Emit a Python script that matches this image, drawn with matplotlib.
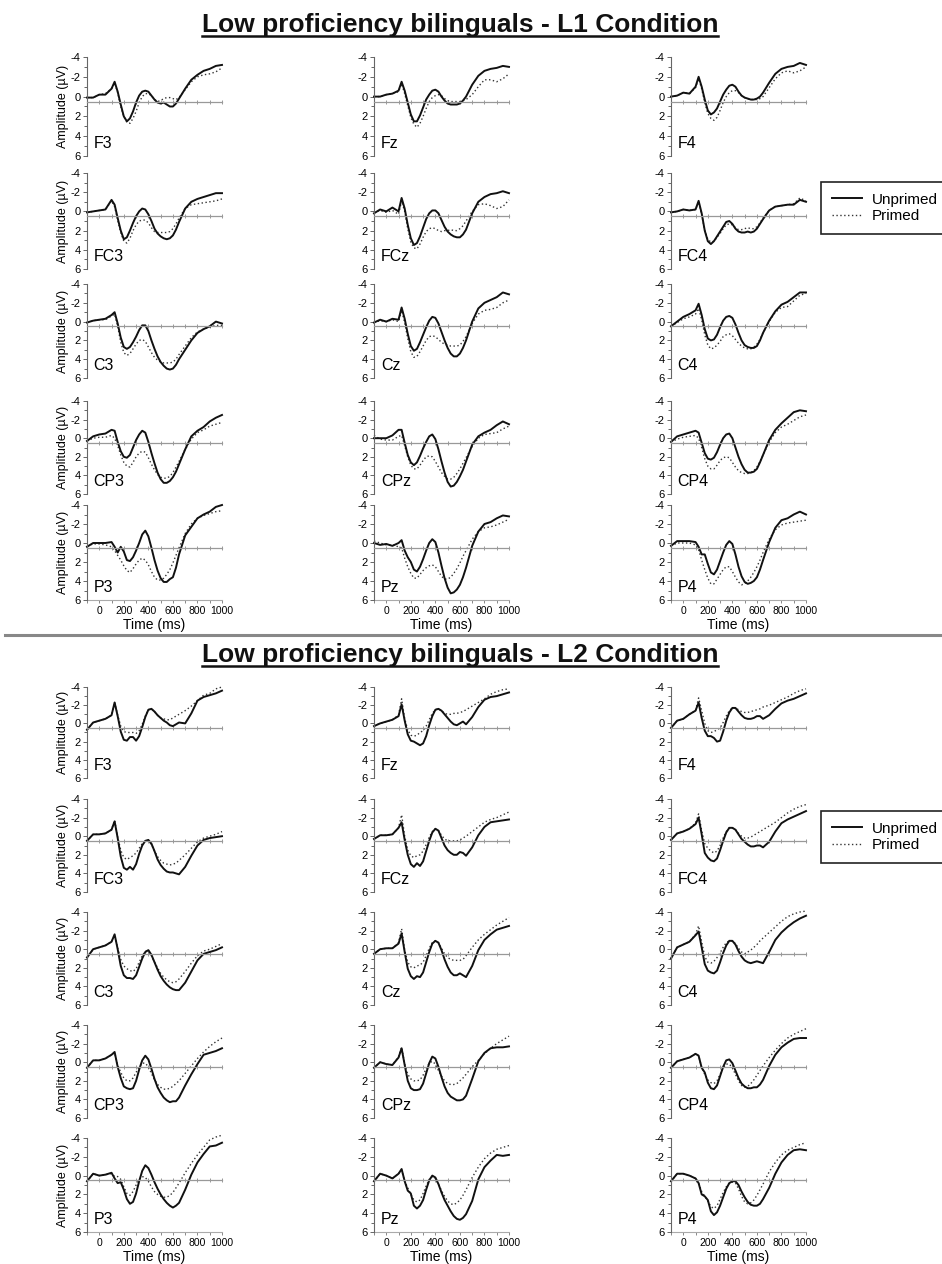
import numpy as np
import matplotlib
matplotlib.use('Agg')
import matplotlib.pyplot as plt
from matplotlib import font_manager
from matplotlib.lines import Line2D

# time axis (ms) shared by every waveform
TIMES = [-100, -50, 0, 50, 100, 125, 150, 175, 200, 225, 250, 275, 300, 325, 350, 375,
         400, 425, 450, 475, 500, 525, 550, 575, 600, 625, 650, 700, 750, 800, 850, 900, 950, 1000]

ELECTRODES = [['F3', 'Fz', 'F4'],
              ['FC3', 'FCz', 'FC4'],
              ['C3', 'Cz', 'C4'],
              ['CP3', 'CPz', 'CP4'],
              ['P3', 'Pz', 'P4']]

# ---------- L1 condition (U = unprimed, P = primed), amplitude in microvolts ----------
L1_F3_U = [0.1, 0.1, -0.2, -0.2, -0.8, -1.5, -0.5, 0.8, 2.0, 2.5, 2.2, 1.5, 0.6, -0.1, -0.5, -0.6, -0.5, -0.1, 0.3, 0.6, 0.7, 0.6, 0.8, 1.0, 1.0, 0.7, 0.2, -0.8, -1.7, -2.2, -2.6, -2.8, -3.1, -3.2]
L1_F3_P = [0.1, 0.1, -0.2, -0.3, -0.8, -1.4, -0.4, 1.0, 2.0, 2.6, 2.7, 2.2, 1.5, 0.6, 0.0, -0.3, -0.3, -0.1, 0.3, 0.5, 0.4, 0.2, 0.1, 0.1, 0.2, 0.3, 0.1, -0.7, -1.5, -2.0, -2.2, -2.3, -2.5, -2.9]
L1_FZ_U = [0.0, 0.0, -0.2, -0.3, -0.6, -1.5, -0.6, 0.6, 1.8, 2.5, 2.5, 1.9, 1.1, 0.3, -0.2, -0.6, -0.7, -0.5, 0.0, 0.4, 0.7, 0.8, 0.8, 0.8, 0.7, 0.4, 0.0, -1.2, -2.1, -2.6, -2.8, -2.9, -3.1, -3.0]
L1_FZ_P = [0.0, 0.0, -0.2, -0.3, -0.5, -1.3, -0.3, 0.9, 2.1, 2.8, 3.1, 2.7, 2.0, 1.2, 0.5, 0.1, -0.1, -0.2, -0.1, 0.2, 0.4, 0.5, 0.5, 0.5, 0.5, 0.4, 0.3, -0.2, -1.0, -1.7, -1.7, -1.5, -1.8, -2.3]
L1_F4_U = [0.0, -0.1, -0.4, -0.3, -1.0, -2.0, -1.0, 0.3, 1.4, 1.8, 1.6, 1.2, 0.5, -0.2, -0.7, -1.1, -1.2, -1.0, -0.5, -0.1, 0.1, 0.2, 0.3, 0.3, 0.2, 0.0, -0.4, -1.4, -2.3, -2.8, -3.0, -3.1, -3.4, -3.2]
L1_F4_P = [0.0, -0.1, -0.4, -0.3, -0.9, -1.8, -0.8, 0.6, 1.7, 2.2, 2.4, 2.1, 1.4, 0.6, 0.0, -0.4, -0.6, -0.6, -0.4, -0.1, 0.1, 0.2, 0.3, 0.3, 0.3, 0.2, 0.0, -0.9, -1.8, -2.4, -2.6, -2.4, -2.6, -3.0]
L1_FC3_U = [0.1, 0.0, -0.1, -0.2, -1.2, -0.7, 0.7, 2.0, 2.9, 2.7, 2.0, 1.2, 0.5, 0.0, -0.3, -0.2, 0.3, 1.0, 1.8, 2.3, 2.6, 2.8, 2.9, 2.8, 2.5, 1.9, 1.1, -0.3, -1.0, -1.3, -1.5, -1.7, -1.9, -1.9]
L1_FC3_P = [0.1, 0.0, -0.1, -0.2, -1.1, -0.5, 0.9, 2.2, 3.1, 3.3, 2.8, 2.0, 1.4, 1.0, 0.9, 0.9, 1.2, 1.7, 2.1, 2.2, 2.2, 2.2, 2.2, 2.1, 1.8, 1.3, 0.7, -0.3, -0.7, -0.8, -0.9, -1.0, -1.1, -1.3]
L1_FCZ_U = [0.2, -0.2, 0.0, -0.4, 0.0, -1.4, -0.3, 1.4, 2.8, 3.5, 3.3, 2.6, 1.7, 0.8, 0.2, -0.1, -0.1, 0.2, 0.9, 1.6, 2.1, 2.4, 2.6, 2.7, 2.7, 2.4, 1.9, 0.2, -1.0, -1.5, -1.8, -1.9, -2.1, -1.9]
L1_FCZ_P = [0.1, -0.1, 0.1, -0.1, 0.3, -1.1, 0.0, 1.8, 3.2, 3.8, 3.9, 3.4, 2.7, 2.1, 1.8, 1.7, 1.8, 2.0, 2.1, 2.0, 2.0, 1.9, 2.0, 2.0, 1.8, 1.5, 1.0, 0.0, -0.7, -0.8, -0.6, -0.3, -0.5, -1.2]
L1_FC4_U = [0.1, 0.0, -0.2, -0.1, -0.2, -1.1, 0.2, 2.0, 3.1, 3.4, 3.1, 2.6, 2.1, 1.6, 1.1, 1.0, 1.3, 1.8, 2.1, 2.2, 2.2, 2.1, 2.2, 2.1, 1.8, 1.3, 0.8, -0.1, -0.5, -0.6, -0.7, -0.7, -1.2, -1.0]
L1_FC4_P = [0.1, 0.0, -0.2, -0.1, -0.2, -1.0, 0.3, 2.0, 2.9, 3.2, 3.1, 2.7, 2.3, 1.8, 1.4, 1.3, 1.4, 1.7, 1.9, 1.9, 1.8, 1.7, 1.8, 1.8, 1.6, 1.2, 0.7, -0.1, -0.5, -0.6, -0.7, -0.8, -1.4, -1.1]
L1_C3_U = [0.1, -0.1, -0.2, -0.3, -0.7, -1.0, 0.2, 1.7, 2.7, 2.9, 2.7, 2.2, 1.6, 0.9, 0.4, 0.4, 1.0, 2.0, 2.9, 3.7, 4.3, 4.7, 5.0, 5.1, 5.0, 4.6, 4.0, 3.0, 2.0, 1.2, 0.8, 0.5, 0.0, 0.2]
L1_C3_P = [0.1, -0.1, -0.2, -0.2, -0.6, -0.8, 0.5, 2.2, 3.3, 3.6, 3.4, 2.9, 2.4, 2.0, 1.9, 2.1, 2.7, 3.3, 3.8, 4.1, 4.3, 4.4, 4.4, 4.4, 4.3, 4.0, 3.5, 2.6, 1.7, 1.1, 0.8, 0.6, 0.4, 0.4]
L1_CZ_U = [0.1, -0.2, 0.0, -0.3, -0.2, -1.5, -0.3, 1.3, 2.6, 3.1, 2.9, 2.2, 1.4, 0.6, -0.1, -0.5, -0.4, 0.2, 1.1, 2.0, 2.8, 3.4, 3.7, 3.7, 3.4, 2.8, 2.0, 0.0, -1.4, -2.0, -2.3, -2.6, -3.1, -2.9]
L1_CZ_P = [0.1, -0.1, 0.0, -0.2, 0.0, -1.2, 0.1, 1.8, 3.2, 3.8, 3.7, 3.2, 2.6, 2.0, 1.6, 1.5, 1.6, 1.9, 2.2, 2.4, 2.5, 2.6, 2.6, 2.6, 2.5, 2.1, 1.6, 0.2, -0.8, -1.2, -1.3, -1.5, -2.0, -2.3]
L1_C4_U = [0.5, 0.0, -0.5, -0.8, -1.2, -1.9, -0.7, 0.8, 1.8, 2.0, 1.9, 1.4, 0.6, -0.1, -0.5, -0.6, -0.4, 0.3, 1.2, 2.0, 2.5, 2.7, 2.8, 2.8, 2.6, 2.0, 1.2, -0.1, -1.1, -1.8, -2.1, -2.6, -3.1, -3.1]
L1_C4_P = [0.5, 0.1, -0.3, -0.5, -0.8, -1.4, -0.2, 1.4, 2.5, 2.9, 2.8, 2.5, 2.1, 1.6, 1.4, 1.3, 1.5, 1.9, 2.3, 2.6, 2.8, 2.9, 2.9, 2.7, 2.4, 1.9, 1.2, 0.0, -1.0, -1.5, -1.6, -2.2, -2.8, -3.0]
L1_CP3_U = [0.3, -0.2, -0.4, -0.5, -0.9, -0.8, 0.4, 1.4, 2.0, 2.1, 1.8, 1.0, 0.2, -0.4, -0.8, -0.6, 0.4, 1.6, 2.7, 3.7, 4.4, 4.8, 4.8, 4.6, 4.2, 3.6, 2.8, 1.2, -0.2, -0.8, -1.2, -1.8, -2.2, -2.5]
L1_CP3_P = [0.3, 0.0, -0.1, -0.1, -0.3, 0.0, 0.8, 1.8, 2.6, 3.0, 3.1, 2.6, 2.0, 1.6, 1.4, 1.5, 2.1, 2.8, 3.4, 3.9, 4.2, 4.3, 4.3, 4.1, 3.7, 3.1, 2.5, 1.2, 0.1, -0.6, -0.9, -1.3, -1.5, -1.7]
L1_CPZ_U = [0.0, 0.0, 0.0, -0.3, -0.9, -0.9, 0.5, 1.8, 2.6, 2.9, 2.6, 1.9, 1.1, 0.4, -0.2, -0.4, 0.1, 1.2, 2.5, 3.7, 4.7, 5.2, 5.1, 4.7, 4.1, 3.4, 2.5, 0.7, -0.2, -0.6, -0.9, -1.4, -1.8, -1.5]
L1_CPZ_P = [-0.3, 0.1, 0.2, 0.2, -0.2, -0.3, 0.8, 2.0, 2.9, 3.3, 3.3, 2.9, 2.4, 2.0, 1.9, 2.0, 2.5, 3.1, 3.7, 4.1, 4.4, 4.4, 4.2, 3.8, 3.3, 2.7, 2.1, 0.9, 0.0, -0.4, -0.5, -0.6, -1.0, -1.3]
L1_CP4_U = [0.4, -0.2, -0.4, -0.6, -0.8, -0.6, 0.5, 1.6, 2.2, 2.3, 2.1, 1.5, 0.7, 0.0, -0.4, -0.5, 0.0, 1.0, 2.0, 2.8, 3.4, 3.7, 3.7, 3.6, 3.3, 2.6, 1.8, 0.2, -0.9, -1.6, -2.2, -2.8, -3.0, -2.9]
L1_CP4_P = [0.4, 0.1, -0.1, -0.2, -0.3, 0.0, 1.0, 2.2, 3.0, 3.3, 3.3, 2.9, 2.4, 2.1, 2.0, 2.1, 2.6, 3.1, 3.5, 3.7, 3.8, 3.8, 3.7, 3.5, 3.1, 2.5, 1.8, 0.4, -0.6, -1.2, -1.5, -1.9, -2.3, -2.5]
L1_P3_U = [0.4, 0.0, 0.0, 0.0, -0.1, 0.4, 1.0, 0.4, 0.9, 1.8, 1.9, 1.5, 0.8, 0.0, -0.9, -1.3, -0.7, 0.5, 1.8, 2.9, 3.7, 4.1, 4.1, 3.8, 3.6, 2.6, 1.2, -0.8, -1.7, -2.6, -3.0, -3.3, -3.8, -4.0]
L1_P3_P = [0.3, 0.1, 0.1, 0.2, 0.4, 0.8, 1.3, 1.8, 2.4, 2.9, 3.1, 2.7, 2.2, 1.8, 1.6, 1.8, 2.3, 3.0, 3.6, 3.9, 3.9, 3.7, 3.3, 2.8, 2.1, 1.3, 0.5, -1.0, -2.0, -2.6, -2.9, -3.1, -3.3, -3.4]
L1_PZ_U = [0.0, 0.2, 0.1, 0.3, 0.0, -0.3, 0.8, 1.5, 2.0, 2.8, 3.0, 2.5, 1.7, 0.8, 0.0, -0.4, -0.1, 1.0, 2.4, 3.7, 4.7, 5.3, 5.2, 4.9, 4.4, 3.6, 2.6, 0.3, -1.2, -2.0, -2.2, -2.6, -2.9, -2.8]
L1_PZ_P = [-0.2, 0.0, 0.2, 0.2, 0.4, 0.5, 1.6, 2.5, 3.2, 3.7, 3.7, 3.3, 2.9, 2.6, 2.4, 2.3, 2.5, 3.0, 3.5, 3.8, 3.8, 3.6, 3.2, 2.7, 2.1, 1.4, 0.8, -0.4, -1.2, -1.6, -1.7, -1.9, -2.2, -2.5]
L1_P4_U = [0.3, -0.2, -0.2, -0.2, -0.1, 0.4, 1.2, 1.2, 2.2, 3.1, 3.3, 2.8, 1.9, 1.0, 0.2, -0.2, 0.1, 1.2, 2.5, 3.5, 4.1, 4.3, 4.2, 4.0, 3.6, 2.8, 1.8, -0.1, -1.6, -2.4, -2.6, -3.0, -3.3, -3.0]
L1_P4_P = [0.3, 0.0, 0.0, 0.0, 0.2, 0.7, 1.8, 2.8, 3.7, 4.3, 4.3, 3.8, 3.3, 2.8, 2.5, 2.5, 3.0, 3.6, 4.1, 4.4, 4.3, 4.0, 3.6, 3.1, 2.5, 1.8, 1.0, -0.4, -1.4, -1.9, -2.1, -2.2, -2.3, -2.4]

# ---------- L2 condition ----------
L2_F3_U = [0.7, -0.1, -0.3, -0.5, -0.9, -2.3, -0.8, 0.9, 1.8, 1.9, 1.5, 1.5, 1.9, 1.4, 0.4, -0.7, -1.5, -1.6, -1.3, -0.9, -0.6, -0.3, -0.1, 0.2, 0.3, 0.1, -0.1, 0.0, -1.1, -2.5, -2.9, -3.1, -3.3, -3.6]
L2_F3_P = [0.7, -0.1, -0.3, -0.5, -0.9, -2.3, -0.9, 0.3, 0.9, 1.0, 1.0, 1.0, 1.1, 0.8, 0.1, -0.8, -1.5, -1.6, -1.3, -0.9, -0.6, -0.5, -0.4, -0.4, -0.6, -0.8, -1.0, -1.4, -1.9, -2.5, -3.1, -3.3, -3.8, -4.0]
L2_FZ_U = [0.3, 0.0, -0.2, -0.4, -0.8, -2.1, -0.3, 1.2, 1.9, 2.0, 2.2, 2.4, 2.2, 1.4, 0.2, -0.8, -1.5, -1.6, -1.4, -1.0, -0.6, -0.2, 0.1, 0.2, 0.0, -0.2, 0.1, -0.7, -1.8, -2.6, -2.9, -3.0, -3.2, -3.4]
L2_FZ_P = [0.3, 0.0, -0.2, -0.4, -0.9, -2.7, -0.5, 0.7, 1.3, 1.4, 1.3, 1.0, 0.8, 0.3, -0.4, -1.1, -1.5, -1.6, -1.4, -1.1, -1.0, -1.0, -1.1, -1.1, -1.2, -1.3, -1.5, -1.9, -2.3, -2.7, -3.2, -3.5, -3.7, -3.8]
L2_F4_U = [0.5, -0.3, -0.5, -1.0, -1.4, -2.3, -0.6, 0.8, 1.4, 1.4, 1.6, 2.0, 1.9, 0.9, -0.3, -1.2, -1.7, -1.7, -1.3, -0.9, -0.6, -0.5, -0.5, -0.6, -0.8, -0.8, -0.5, -0.9, -1.6, -2.2, -2.5, -2.7, -3.0, -3.3]
L2_F4_P = [0.5, -0.3, -0.5, -1.0, -1.4, -2.8, -1.4, 0.0, 0.8, 1.0, 0.9, 0.7, 0.5, -0.1, -0.8, -1.4, -1.7, -1.7, -1.5, -1.3, -1.2, -1.2, -1.3, -1.4, -1.5, -1.6, -1.8, -2.0, -2.3, -2.6, -2.9, -3.3, -3.6, -3.8]
L2_FC3_U = [0.5, -0.2, -0.2, -0.3, -0.7, -1.6, 0.2, 2.2, 3.4, 3.6, 3.3, 3.6, 3.0, 1.9, 1.0, 0.5, 0.4, 0.8, 1.6, 2.5, 3.1, 3.5, 3.8, 3.9, 3.9, 4.0, 4.1, 3.3, 2.1, 1.0, 0.4, 0.2, 0.1, 0.0]
L2_FC3_P = [0.5, -0.2, -0.2, -0.3, -0.7, -1.7, 0.1, 1.5, 2.3, 2.5, 2.3, 2.1, 1.8, 1.3, 0.8, 0.5, 0.5, 0.9, 1.6, 2.2, 2.6, 2.9, 3.0, 3.1, 3.0, 2.9, 2.6, 2.0, 1.3, 0.6, 0.2, 0.0, -0.2, -0.5]
L2_FCZ_U = [0.3, -0.1, -0.1, -0.2, -0.9, -1.5, 0.4, 2.0, 3.0, 3.3, 2.9, 3.2, 2.7, 1.6, 0.5, -0.4, -0.8, -0.6, 0.2, 1.0, 1.5, 1.8, 2.0, 2.0, 1.7, 1.8, 2.1, 1.2, -0.1, -1.0, -1.5, -1.6, -1.7, -1.8]
L2_FCZ_P = [0.3, -0.1, -0.1, -0.2, -0.9, -2.3, 0.0, 1.5, 2.1, 2.3, 2.1, 2.0, 1.6, 0.9, 0.1, -0.5, -0.8, -0.6, -0.1, 0.3, 0.5, 0.5, 0.5, 0.5, 0.4, 0.2, 0.0, -0.5, -1.0, -1.5, -1.8, -2.0, -2.3, -2.6]
L2_FC4_U = [0.4, -0.3, -0.5, -0.8, -1.3, -2.0, -0.2, 1.8, 2.3, 2.6, 2.7, 2.4, 1.5, 0.5, -0.4, -0.9, -0.9, -0.7, -0.2, 0.3, 0.6, 0.9, 1.1, 1.1, 1.0, 1.0, 1.2, 0.6, -0.5, -1.4, -1.8, -2.1, -2.4, -2.7]
L2_FC4_P = [0.4, -0.3, -0.5, -0.8, -1.4, -2.4, -0.6, 0.8, 1.3, 1.6, 1.8, 1.6, 1.0, 0.2, -0.5, -0.9, -0.9, -0.7, -0.3, 0.0, 0.2, 0.2, 0.1, -0.1, -0.3, -0.5, -0.7, -1.1, -1.5, -2.0, -2.5, -2.9, -3.2, -3.4]
L2_C3_U = [0.9, 0.0, -0.2, -0.4, -0.8, -1.6, 0.0, 1.8, 2.8, 3.1, 3.1, 3.2, 2.8, 1.9, 1.0, 0.3, 0.1, 0.6, 1.4, 2.2, 2.9, 3.4, 3.8, 4.1, 4.3, 4.4, 4.4, 3.6, 2.4, 1.2, 0.5, 0.3, 0.1, -0.2]
L2_C3_P = [0.9, 0.0, -0.2, -0.4, -0.8, -1.5, -0.1, 1.1, 1.8, 2.1, 2.3, 2.4, 2.1, 1.4, 0.7, 0.2, 0.2, 0.7, 1.4, 2.0, 2.6, 3.0, 3.3, 3.5, 3.6, 3.5, 3.2, 2.4, 1.5, 0.7, 0.2, 0.0, -0.3, -0.6]
L2_CZ_U = [0.5, 0.0, -0.1, -0.1, -0.6, -1.7, 0.3, 2.1, 2.9, 3.2, 2.9, 3.0, 2.5, 1.4, 0.3, -0.6, -0.9, -0.7, 0.1, 1.1, 1.9, 2.5, 2.8, 2.8, 2.6, 2.8, 3.0, 1.8, 0.1, -1.0, -1.6, -2.1, -2.3, -2.5]
L2_CZ_P = [0.5, 0.0, -0.1, -0.1, -0.7, -2.2, 0.1, 1.4, 1.9, 2.0, 1.8, 1.7, 1.4, 0.7, -0.1, -0.7, -0.9, -0.7, -0.1, 0.5, 0.9, 1.1, 1.2, 1.2, 1.2, 1.1, 0.7, -0.2, -1.0, -1.6, -2.1, -2.6, -3.0, -3.4]
L2_C4_U = [1.0, -0.2, -0.5, -0.8, -1.5, -1.9, -0.2, 1.6, 2.3, 2.5, 2.6, 2.3, 1.4, 0.4, -0.4, -0.9, -0.9, -0.5, 0.2, 0.8, 1.2, 1.4, 1.5, 1.4, 1.3, 1.4, 1.5, 0.3, -1.0, -1.8, -2.4, -2.9, -3.3, -3.6]
L2_C4_P = [1.0, -0.2, -0.5, -0.8, -1.6, -2.5, -0.8, 0.8, 1.4, 1.5, 1.3, 0.9, 0.4, -0.2, -0.7, -0.9, -0.9, -0.6, -0.1, 0.3, 0.5, 0.3, 0.1, -0.2, -0.5, -0.9, -1.2, -1.8, -2.4, -3.0, -3.5, -3.8, -4.0, -4.1]
L2_CP3_U = [0.6, -0.2, -0.2, -0.4, -0.8, -1.1, 0.5, 1.7, 2.6, 2.8, 2.9, 2.8, 2.0, 0.8, -0.2, -0.7, -0.3, 0.7, 1.8, 2.7, 3.3, 3.8, 4.1, 4.3, 4.2, 4.2, 3.8, 2.5, 1.3, 0.2, -0.8, -1.0, -1.2, -1.5]
L2_CP3_P = [0.6, -0.2, -0.2, -0.4, -0.8, -1.0, 0.3, 1.1, 1.7, 2.0, 2.0, 1.7, 1.1, 0.5, 0.1, 0.1, 0.5, 1.2, 1.9, 2.4, 2.7, 2.9, 2.9, 2.8, 2.6, 2.3, 2.0, 1.2, 0.4, -0.4, -1.1, -1.7, -2.2, -2.6]
L2_CPZ_U = [0.6, 0.0, 0.2, 0.3, -0.5, -1.5, 0.3, 2.0, 2.8, 3.0, 3.0, 2.9, 2.3, 1.2, 0.1, -0.6, -0.4, 0.5, 1.6, 2.6, 3.3, 3.7, 3.9, 4.1, 4.1, 4.0, 3.6, 1.8, -0.1, -1.0, -1.5, -1.6, -1.6, -1.7]
L2_CPZ_P = [0.6, 0.0, 0.2, 0.3, -0.6, -1.6, 0.2, 1.3, 1.8, 2.0, 2.0, 1.9, 1.4, 0.7, 0.1, -0.1, 0.2, 0.9, 1.5, 2.0, 2.3, 2.4, 2.4, 2.3, 2.0, 1.7, 1.3, 0.5, -0.2, -0.9, -1.5, -2.0, -2.4, -2.8]
L2_CP4_U = [0.6, -0.1, -0.3, -0.5, -0.9, -0.7, 0.6, 1.1, 2.2, 2.8, 2.9, 2.5, 1.5, 0.5, -0.2, -0.3, 0.1, 0.9, 1.7, 2.3, 2.6, 2.8, 2.8, 2.7, 2.7, 2.4, 1.9, 0.4, -0.8, -1.6, -2.1, -2.5, -2.6, -2.6]
L2_CP4_P = [0.6, -0.1, -0.3, -0.5, -0.9, -0.7, 0.6, 1.3, 1.9, 2.2, 2.3, 2.0, 1.3, 0.6, 0.2, 0.2, 0.6, 1.3, 2.0, 2.5, 2.7, 2.6, 2.3, 1.9, 1.4, 0.9, 0.4, -0.5, -1.3, -2.0, -2.6, -3.0, -3.3, -3.6]
L2_P3_U = [0.6, -0.2, 0.0, -0.1, -0.3, 0.3, 0.8, 0.7, 1.5, 2.5, 3.0, 2.8, 1.9, 0.6, -0.5, -1.1, -0.8, -0.1, 0.7, 1.4, 2.0, 2.5, 2.9, 3.2, 3.4, 3.2, 2.9, 1.5, -0.1, -1.4, -2.3, -3.1, -3.2, -3.5]
L2_P3_P = [0.6, -0.2, 0.0, -0.1, -0.2, 0.1, 0.1, 0.4, 1.2, 1.9, 2.1, 1.7, 1.0, 0.4, 0.1, 0.2, 0.6, 1.2, 1.7, 2.0, 2.2, 2.3, 2.3, 2.1, 1.8, 1.3, 0.8, -0.3, -1.3, -2.2, -3.0, -3.8, -4.1, -4.3]
L2_PZ_U = [0.6, -0.2, 0.0, 0.3, -0.2, -0.7, 0.6, 1.6, 1.9, 3.2, 3.5, 3.2, 2.6, 1.5, 0.5, 0.0, 0.2, 0.9, 1.8, 2.6, 3.2, 3.8, 4.3, 4.6, 4.7, 4.5, 4.1, 2.7, 0.4, -0.9, -1.6, -2.2, -2.1, -2.2]
L2_PZ_P = [0.6, -0.2, 0.0, 0.3, -0.2, -0.6, 0.6, 1.3, 2.0, 2.6, 2.8, 2.6, 1.9, 1.1, 0.4, 0.1, 0.3, 0.9, 1.6, 2.2, 2.7, 3.0, 3.1, 2.9, 2.6, 2.1, 1.5, 0.2, -0.9, -1.8, -2.4, -2.8, -3.0, -3.2]
L2_P4_U = [0.6, -0.2, -0.2, 0.0, 0.3, 0.8, 2.0, 2.2, 2.6, 3.8, 4.2, 3.9, 3.2, 2.3, 1.4, 0.8, 0.6, 0.6, 1.0, 1.7, 2.3, 2.8, 3.1, 3.2, 3.2, 3.0, 2.5, 1.3, -0.2, -1.4, -2.2, -2.7, -2.8, -2.7]
L2_P4_P = [0.6, -0.2, -0.2, 0.0, 0.3, 0.8, 1.7, 2.2, 2.7, 3.3, 3.5, 3.2, 2.5, 1.8, 1.2, 0.8, 0.7, 0.8, 1.4, 2.2, 2.8, 3.0, 2.9, 2.6, 2.1, 1.5, 0.9, -0.4, -1.4, -2.2, -2.7, -3.0, -3.3, -3.5]

L1_DATA = {
    'F3': (L1_F3_U, L1_F3_P), 'Fz': (L1_FZ_U, L1_FZ_P), 'F4': (L1_F4_U, L1_F4_P),
    'FC3': (L1_FC3_U, L1_FC3_P), 'FCz': (L1_FCZ_U, L1_FCZ_P), 'FC4': (L1_FC4_U, L1_FC4_P),
    'C3': (L1_C3_U, L1_C3_P), 'Cz': (L1_CZ_U, L1_CZ_P), 'C4': (L1_C4_U, L1_C4_P),
    'CP3': (L1_CP3_U, L1_CP3_P), 'CPz': (L1_CPZ_U, L1_CPZ_P), 'CP4': (L1_CP4_U, L1_CP4_P),
    'P3': (L1_P3_U, L1_P3_P), 'Pz': (L1_PZ_U, L1_PZ_P), 'P4': (L1_P4_U, L1_P4_P),
}
L2_DATA = {
    'F3': (L2_F3_U, L2_F3_P), 'Fz': (L2_FZ_U, L2_FZ_P), 'F4': (L2_F4_U, L2_F4_P),
    'FC3': (L2_FC3_U, L2_FC3_P), 'FCz': (L2_FCZ_U, L2_FCZ_P), 'FC4': (L2_FC4_U, L2_FC4_P),
    'C3': (L2_C3_U, L2_C3_P), 'Cz': (L2_CZ_U, L2_CZ_P), 'C4': (L2_C4_U, L2_C4_P),
    'CP3': (L2_CP3_U, L2_CP3_P), 'CPz': (L2_CPZ_U, L2_CPZ_P), 'CP4': (L2_CP4_U, L2_CP4_P),
    'P3': (L2_P3_U, L2_P3_P), 'Pz': (L2_PZ_U, L2_PZ_P), 'P4': (L2_P4_U, L2_P4_P),
}


def pick_font(names):
    avail = {f.name for f in font_manager.fontManager.ttflist}
    for n in names:
        if n in avail:
            return n
    return 'DejaVu Sans'


NARROW = pick_font(['Liberation Sans Narrow', 'Liberation Sans', 'DejaVu Sans'])
SANS = pick_font(['Liberation Sans', 'DejaVu Sans'])
plt.rcParams['font.family'] = [NARROW, 'DejaVu Sans']
plt.rcParams['axes.unicode_minus'] = False

W, H = 942, 1264
COL_X = [87, 374, 671]
AX_W = 135
ROWS_L1 = [(57, 156), (173, 269), (284, 378), (401, 494), (505, 600)]
ROWS_L2 = [(687, 778), (799, 892), (912, 1005), (1025, 1118), (1138, 1232)]

fig = plt.figure(figsize=(W / 100, H / 100), dpi=100)


def draw_panel(rows, data, legend_top):
    for r, (top, bot) in enumerate(rows):
        for c, name in enumerate(ELECTRODES[r]):
            ax = fig.add_axes([COL_X[c] / W, 1 - bot / H, AX_W / W, (bot - top) / H])
            unprimed, primed = data[name]
            ax.plot(TIMES, primed, color='#333333', lw=1.0, ls=(0, (1, 1.8)), clip_on=False)
            ax.plot(TIMES, unprimed, color='#111111', lw=1.4, clip_on=False)
            ax.set_xlim(-100, 1000)
            ax.set_ylim(6, -4)
            ax.set_yticks([-4, -2, 0, 2, 4, 6])
            ax.set_yticks([-3, -1, 1, 3, 5], minor=True)
            for s in ['top', 'right']:
                ax.spines[s].set_visible(False)
            ax.spines['left'].set_color('#666666')
            ax.spines['left'].set_linewidth(0.8)
            # reference line with time ticks
            ax.spines['bottom'].set_position(('data', 0.5))
            ax.spines['bottom'].set_color('#999999')
            ax.spines['bottom'].set_linewidth(0.9)
            ax.set_xticks(np.arange(-100, 1001, 100))
            ax.tick_params(axis='x', direction='inout', length=3.5, width=0.7,
                           color='#999999', labelbottom=False)
            ax.tick_params(axis='y', which='major', length=3, width=0.7, color='#666666',
                           labelsize=8, pad=1.5)
            ax.tick_params(axis='y', which='minor', length=2, width=0.7, color='#666666')
            ax.patch.set_alpha(0)
            ax.text(0.05, 0.05, name, transform=ax.transAxes, fontsize=11.5,
                    ha='left', va='bottom')
            if c == 0:
                ax.set_ylabel('Amplitude (µV)', fontsize=9, family=SANS, labelpad=1)
            if r == len(rows) - 1:
                sec = ax.secondary_xaxis('bottom')
                sec.set_xticks([0, 200, 400, 600, 800, 1000])
                sec.set_xticks(np.arange(-100, 1001, 100), minor=True)
                sec.spines['bottom'].set_color('#aaaaaa')
                sec.spines['bottom'].set_linewidth(0.8)
                sec.tick_params(axis='x', which='major', length=2.5, width=0.7,
                                color='#888888', labelsize=7.5, pad=2)
                sec.tick_params(axis='x', which='minor', length=2, width=0.7, color='#888888')
                sec.set_xlabel('Time (ms)', fontsize=10, labelpad=1)

    handles = [Line2D([], [], color='#111111', lw=1.4),
               Line2D([], [], color='#333333', lw=1.0, ls=(0, (1, 1.8)))]
    leg = fig.legend(handles, ['Unprimed', 'Primed'], loc='upper left',
                     bbox_to_anchor=(821 / W, 1 - legend_top / H), frameon=True,
                     fancybox=False, edgecolor='#222222', framealpha=1,
                     prop={'family': SANS, 'size': 11}, handlelength=2.0,
                     handletextpad=0.6, borderpad=0.7, labelspacing=0.15,
                     borderaxespad=0)
    leg.get_frame().set_linewidth(1.2)


draw_panel(ROWS_L1, L1_DATA, 182)
draw_panel(ROWS_L2, L2_DATA, 811)

titles = []
for text, y in [('Low proficiency bilinguals - L1 Condition', 25),
                ('Low proficiency bilinguals - L2 Condition', 655)]:
    titles.append(fig.text(460 / W, 1 - y / H, text, ha='center', va='center',
                           fontsize=19, fontweight='bold', color='#111111'))

# separator between the two conditions
fig.add_artist(Line2D([5 / W, 1.0], [1 - 635 / H, 1 - 635 / H], color='#888888', lw=2.2))

# underline the titles
fig.canvas.draw()
inv = fig.transFigure.inverted()
for t in titles:
    bb = t.get_window_extent().transformed(inv)
    yline = bb.y0 + 1.5 / H
    fig.add_artist(Line2D([bb.x0, bb.x1], [yline, yline], color='#111111', lw=1.8))

fig.savefig('out.png', dpi=100)
